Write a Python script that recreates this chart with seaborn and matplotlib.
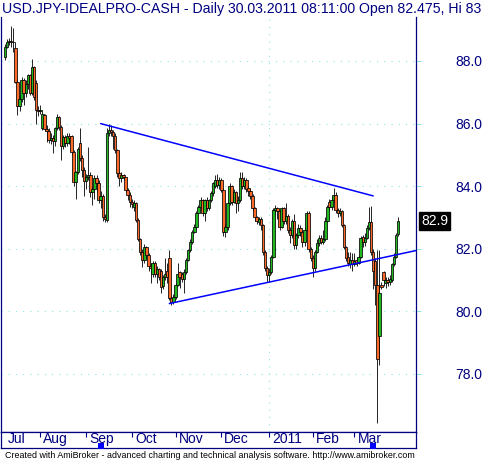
import numpy as np
import pandas as pd
import matplotlib
matplotlib.use("Agg")
import matplotlib.pyplot as plt
import seaborn as sns
from matplotlib.transforms import ScaledTranslation, blended_transform_factory

# ---------------- data ----------------
first_day = "2010-07-08"
last_day = "2011-03-30"

opens = [88.12, 88.46, 88.62, 88.65, 88.60, 88.40, 87.34, 86.56, 86.78, 87.39,
         86.98, 87.25, 87.55, 86.98, 87.82, 87.30, 86.45, 86.40, 85.85, 86.28,
         85.83, 85.75, 85.48, 85.55, 85.45, 85.85, 86.21, 85.90, 85.30, 85.57,
         85.38, 85.60, 85.60, 85.10, 84.15, 84.45, 85.38, 84.90, 84.52, 84.17,
         84.30, 84.36, 83.80, 83.90, 84.26, 84.10, 83.55, 83.70, 83.00, 82.92,
         85.70, 85.80, 85.72, 85.60, 85.15, 84.42, 84.26, 84.35, 84.28, 83.88,
         83.72, 83.50, 83.35, 83.45, 82.92, 82.31, 81.90, 81.65, 82.06, 81.80,
         81.45, 81.20, 81.55, 81.20, 81.35, 81.30, 80.80, 81.10, 81.30, 81.71,
         80.43, 80.30, 80.45, 80.84, 81.25, 81.20, 81.05, 81.25, 81.64, 81.95,
         82.22, 82.54, 82.70, 83.14, 83.34, 83.56, 83.14, 83.56, 83.30, 83.56,
         83.78, 84.00, 84.20, 84.05, 84.20, 83.88, 82.54, 82.70, 83.46, 84.00,
         83.50, 83.80, 83.45, 83.55, 84.26, 84.00, 84.20, 83.95, 83.85, 83.70,
         83.30, 83.00, 82.85, 82.95, 82.76, 81.90, 81.40, 81.15, 81.25, 81.75,
         83.25, 83.30, 83.20, 82.70, 83.30, 82.90, 83.05, 82.60, 82.45, 82.90,
         82.12, 82.45, 82.66, 82.54, 82.22, 82.60, 83.14, 82.00, 81.70, 81.39,
         81.90, 82.20, 82.35, 82.22, 82.30, 82.90, 83.50, 83.34, 83.55, 83.72,
         83.24, 83.14, 83.20, 82.76, 82.06, 81.75, 81.50, 81.65, 81.50, 81.65,
         81.55, 81.75, 82.38, 82.22, 82.35, 82.66, 82.86, 81.90, 81.60, 80.84,
         79.20, 80.85, 81.26, 80.90, 81.00, 80.94, 81.00, 81.50, 81.75, 82.475]

highs = [88.55, 88.70, 88.75, 89.12, 89.05, 88.60, 87.40, 86.90, 87.50, 87.45,
         87.40, 87.60, 87.60, 88.05, 87.85, 87.40, 86.55, 86.60, 86.40, 86.30,
         85.95, 85.85, 85.70, 85.65, 85.90, 86.30, 86.25, 85.95, 85.62, 85.65,
         85.70, 85.70, 85.65, 85.15, 84.50, 85.25, 85.86, 85.00, 84.60, 84.40,
         85.25, 84.45, 84.00, 84.35, 84.35, 84.20, 83.85, 83.75, 83.10, 85.85,
         85.98, 85.95, 85.80, 85.70, 85.20, 84.50, 84.45, 84.40, 84.30, 83.95,
         83.80, 83.60, 83.55, 83.50, 82.98, 82.35, 82.00, 82.15, 82.10, 81.85,
         81.55, 81.60, 81.60, 81.45, 81.40, 81.35, 81.15, 81.70, 81.55, 81.96,
         80.50, 80.55, 80.90, 81.55, 81.30, 81.25, 81.35, 81.70, 82.00, 82.30,
         82.60, 82.80, 83.20, 83.40, 83.65, 83.60, 83.60, 83.65, 83.60, 83.85,
         84.15, 84.36, 84.38, 84.30, 84.25, 83.95, 82.80, 83.50, 84.10, 84.05,
         83.90, 83.85, 83.70, 84.45, 84.45, 84.30, 84.25, 84.00, 83.90, 83.75,
         83.35, 83.05, 83.00, 83.00, 82.80, 81.95, 81.45, 81.40, 81.80, 83.30,
         83.40, 83.34, 83.25, 83.35, 83.35, 83.45, 83.10, 82.70, 82.95, 83.10,
         82.50, 82.80, 82.75, 82.60, 82.65, 83.20, 83.20, 82.05, 81.80, 81.95,
         82.30, 82.45, 82.45, 82.60, 83.00, 83.40, 83.60, 83.65, 83.94, 83.80,
         83.30, 83.30, 83.25, 82.80, 82.10, 81.90, 81.90, 81.85, 81.85, 81.75,
         81.80, 82.40, 82.45, 82.50, 82.75, 83.34, 83.38, 82.00, 81.70, 81.96,
         81.96, 80.95, 81.30, 81.10, 81.10, 81.15, 81.55, 81.85, 82.50, 83.00]

lows = [88.02, 88.40, 88.50, 88.45, 88.30, 87.30, 86.28, 86.40, 86.70, 86.60,
        86.85, 87.10, 86.90, 86.90, 86.75, 85.99, 86.25, 86.30, 85.80, 85.75,
        85.40, 85.38, 85.35, 85.05, 85.30, 85.80, 85.80, 84.85, 85.20, 85.25,
        85.30, 85.35, 85.00, 84.00, 83.60, 84.40, 84.80, 84.30, 83.70, 83.90,
        84.20, 83.65, 83.40, 83.60, 83.80, 83.45, 83.30, 82.90, 82.87, 82.85,
        85.60, 85.60, 85.20, 85.05, 84.30, 84.00, 84.15, 84.20, 83.80, 83.55,
        83.35, 83.30, 83.20, 82.85, 82.25, 81.80, 81.42, 81.55, 81.70, 81.30,
        80.90, 81.10, 81.10, 80.90, 81.00, 80.60, 80.70, 81.00, 80.90, 80.35,
        80.20, 80.25, 80.40, 80.80, 80.75, 80.95, 80.60, 81.20, 81.60, 81.90,
        82.15, 82.50, 82.65, 83.10, 83.30, 83.05, 82.90, 83.20, 83.25, 83.50,
        83.70, 83.95, 83.95, 83.90, 83.80, 82.40, 82.38, 82.60, 83.40, 83.40,
        83.45, 83.14, 83.20, 83.50, 83.90, 83.90, 83.80, 83.70, 83.60, 83.20,
        82.90, 82.80, 82.75, 82.60, 81.80, 81.30, 80.95, 80.94, 81.20, 81.70,
        83.10, 82.95, 82.60, 82.65, 82.80, 82.80, 82.50, 82.20, 82.35, 82.00,
        82.00, 82.35, 82.40, 82.05, 82.10, 82.55, 81.90, 81.60, 81.10, 81.30,
        81.85, 82.10, 82.15, 82.15, 82.25, 82.85, 83.25, 83.25, 83.45, 83.15,
        83.00, 83.05, 82.70, 82.00, 81.60, 81.45, 81.40, 81.30, 81.45, 81.45,
        81.50, 81.70, 82.05, 82.10, 82.30, 82.60, 81.80, 80.70, 80.20, 76.43,
        78.30, 80.70, 80.80, 80.75, 80.80, 80.85, 80.95, 81.45, 81.70, 82.40]

closes = [88.46, 88.62, 88.65, 88.60, 88.62, 87.34, 86.56, 86.78, 87.39, 86.98,
          87.25, 87.55, 86.98, 87.82, 86.86, 86.45, 86.40, 86.45, 86.30, 85.83,
          85.75, 85.48, 85.55, 85.45, 85.85, 86.21, 85.90, 85.30, 85.57, 85.38,
          85.60, 85.55, 85.10, 84.15, 84.45, 85.20, 84.90, 84.52, 84.17, 84.30,
          84.36, 83.80, 83.90, 84.26, 84.10, 83.55, 83.70, 83.00, 82.95, 85.70,
          85.80, 85.72, 85.60, 85.15, 84.42, 84.26, 84.35, 84.28, 83.88, 83.72,
          83.50, 83.42, 83.45, 82.92, 82.31, 81.90, 81.65, 82.06, 81.80, 81.45,
          81.38, 81.55, 81.20, 81.35, 81.10, 80.78, 81.10, 81.20, 81.10, 80.43,
          80.30, 80.45, 80.84, 81.20, 81.10, 81.05, 81.25, 81.64, 81.95, 82.22,
          82.54, 82.70, 83.14, 83.34, 83.56, 83.14, 83.56, 83.30, 83.56, 83.78,
          84.10, 84.20, 84.05, 84.20, 83.88, 82.54, 82.70, 83.46, 84.00, 83.50,
          83.80, 83.45, 83.55, 84.26, 84.00, 84.20, 83.90, 83.85, 83.70, 83.30,
          83.00, 82.90, 82.95, 82.76, 81.90, 81.40, 81.15, 81.25, 81.75, 83.25,
          83.30, 83.20, 82.70, 83.30, 82.90, 83.05, 82.60, 82.45, 82.90, 82.12,
          82.45, 82.66, 82.54, 82.22, 82.60, 83.14, 82.00, 81.70, 81.39, 81.90,
          82.20, 82.35, 82.22, 82.30, 82.90, 83.34, 83.34, 83.55, 83.72, 83.24,
          83.14, 83.20, 82.76, 82.06, 81.71, 81.55, 81.65, 81.50, 81.60, 81.55,
          81.75, 82.35, 82.22, 82.35, 82.66, 82.86, 81.90, 81.30, 80.84, 78.48,
          80.60, 80.78, 81.00, 81.00, 80.94, 81.05, 81.50, 81.75, 82.44, 82.90]

price_ticks = [78.0, 80.0, 82.0, 84.0, 86.0, 88.0]
month_labels = ["Jul", "Aug", "Sep", "Oct", "Nov", "Dec", "2011", "Feb", "Mar"]

trend_upper_dates = ["2010-09-10", "2011-03-14"]
trend_upper_values = [86.0, 83.69]
trend_lower_dates = ["2010-10-27", "2011-04-12"]
trend_lower_values = [80.25, 81.95]

title_text = ("USD.JPY-IDEALPRO-CASH - Daily 30.03.2011 08:11:00 "
              "Open 82.475, Hi 83")
footer_text = ("Created with AmiBroker - advanced charting and technical "
               "analysis software. http://www.amibroker.com")

# ---------------- style ----------------
sns.set_theme(style="white")
plt.rcParams["font.family"] = ["Liberation Sans", "DejaVu Sans"]

NAVY = "#000080"
GRIDC = "#8fe6e6"
GREEN = "#1fb81f"
ORANGE = "#ff6a28"
BLUE = "#0000ff"

W_PX, H_PX = 485, 461
fig = plt.figure(figsize=(W_PX / 100, H_PX / 100), dpi=100)
fig.patch.set_facecolor("white")

def fx(px):
    return px / W_PX

def fy(py):
    return 1 - py / H_PX

ax = fig.add_axes([fx(0.5), fy(432), fx(416) - fx(0.5), fy(17) - fy(432)])
ax2 = fig.add_axes([fx(0.5), fy(448), fx(416) - fx(0.5), fy(432) - fy(448)])

dates = pd.bdate_range(first_day, last_day)
n = len(dates)
o = np.array(opens); h = np.array(highs); l = np.array(lows); c = np.array(closes)
x = np.arange(n)

def pos_of(d):
    return float(np.busday_count(np.datetime64(first_day), np.datetime64(d)))

# wicks and bodies
ax.vlines(x, l, h, color="black", linewidth=0.6, zorder=3)
up = c >= o
colors = np.where(up, GREEN, ORANGE)
ax.bar(x, np.abs(c - o), bottom=np.minimum(o, c), width=1.2, color=colors,
       edgecolor="black", linewidth=0.55, zorder=4)

# trend lines
ux = [pos_of(d) for d in trend_upper_dates]
lx = [pos_of(d) for d in trend_lower_dates]
sns.lineplot(x=ux, y=trend_upper_values, ax=ax, color=BLUE, linewidth=1.1,
             estimator=None, sort=False, zorder=5)
sns.lineplot(x=lx, y=trend_lower_values, ax=ax, color=BLUE, linewidth=1.1,
             estimator=None, sort=False, zorder=5)

# axes ranges (px -> bar index: x = 5 + 2.08 i)
ax.set_xlim((0.5 - 5) / 2.08, (416 - 5) / 2.08)
ax.set_ylim(88 - (432 - 61) / 31.3, 88 + (61 - 17) / 31.3)

# y axis on the right
ax.yaxis.tick_right()
ax.set_yticks(price_ticks)
ax.set_yticklabels([f"{v:.1f}" for v in price_ticks])
ax.tick_params(axis="y", which="major", right=True, left=False, length=3.6,
               width=0.72, color=GRIDC, pad=24.5, labelsize=10, labelcolor=NAVY)
ax.set_xticks([])
ax.grid(False)
for yv in price_ticks:
    ax.axhline(yv, color=GRIDC, linestyle=(0, (1, 5.5)), linewidth=0.8, zorder=1)

# month positions
month_starts = [i for i in range(n) if i == 0 or dates[i].month != dates[i - 1].month]
year_starts = [i for i in range(1, n) if dates[i].year != dates[i - 1].year]
for ys in year_starts:
    ax.axvline(ys, color=GRIDC, linestyle=(0, (1, 5.5)), linewidth=0.8, zorder=1)

ax.spines["top"].set_visible(False)
for side in ["left", "right", "bottom"]:
    ax.spines[side].set_color(NAVY)
    ax.spines[side].set_linewidth(0.9)

# last value tag
ax.text(1.0, c[-1], f"{c[-1]:.1f}", transform=blended_transform_factory(ax.transAxes, ax.transData)
        + ScaledTranslation(5 / 100, 0, fig.dpi_scale_trans),
        color="white", fontsize=10, ha="left", va="center",
        bbox=dict(boxstyle="square,pad=0.15", facecolor="black", edgecolor="black"),
        clip_on=False, zorder=10)

# bottom month strip
ax2.set_xlim(ax.get_xlim())
ax2.set_ylim(0, 1)
ax2.set_yticks([])
ax2.set_xticks(month_starts)
ax2.set_xticklabels(month_labels)
ax2.tick_params(axis="x", top=True, bottom=False, labeltop=False, labelbottom=True,
                direction="in", length=3.6, width=0.8, color=NAVY,
                labelsize=10, labelcolor=NAVY, pad=-11.5)
for lab in ax2.get_xticklabels():
    lab.set_horizontalalignment("left")
    lab.set_transform(lab.get_transform() + ScaledTranslation(3 / 100, 0, fig.dpi_scale_trans))
ax2.xaxis.get_major_ticks()[0].tick2line.set_visible(False)
for side in ax2.spines:
    ax2.spines[side].set_color(NAVY)
    ax2.spines[side].set_linewidth(0.9)
ax2.set_facecolor("white")

sns.scatterplot(x=ux, y=[0.15, 0.15], ax=ax2, marker="s", s=16, color=BLUE,
                edgecolor=BLUE, linewidth=0, zorder=6, clip_on=False)
ax2.set_xlabel(""); ax2.set_ylabel("")
ax.set_xlabel(""); ax.set_ylabel("")

# title and footer
fig.text(fx(2), fy(9), title_text, color=NAVY, fontsize=10.15, ha="left", va="center")
fig.text(fx(5), fy(455), footer_text, color="black", fontsize=6.4, ha="left", va="center")

fig.savefig("out.png", dpi=100)
